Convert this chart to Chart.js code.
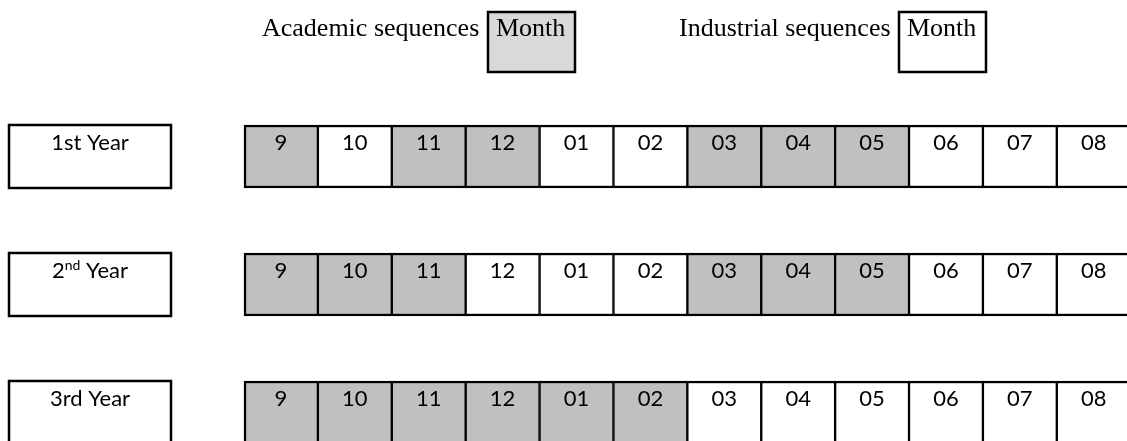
<!DOCTYPE html>
<html>
<head>
<meta charset="utf-8">
<script src="https://cdn.jsdelivr.net/npm/chart.js@4"></script>
<style>
  body { margin: 0; background: #fff; }
  #wrap { width: 1127px; height: 441px; position: relative; }
</style>
</head>
<body>
<div id="wrap"><canvas id="myChart"></canvas></div>
<script>
// rows and months
const rowLabels = ['1st Year', '2nd Year', '3rd Year'];
const rowSuperscript = [false, true, false];
const months = ['9', '10', '11', '12', '01', '02', '03', '04', '05', '06', '07', '08'];
// 1 = academic sequence (grey), 0 = industrial sequence (white)
const academicYear1 = [1, 0, 1, 1, 0, 0, 1, 1, 1, 0, 0, 0];
const academicYear2 = [1, 1, 1, 0, 0, 0, 1, 1, 1, 0, 0, 0];
const academicYear3 = [1, 1, 1, 1, 1, 1, 0, 0, 0, 0, 0, 0];
const legendItems = ['Academic sequences', 'Industrial sequences'];
const legendBoxText = 'Month';

const grey = '#c0c0c0';
const legendGrey = '#d9d9d9';
const cellFont = '22px Lato';
const supFont = '14px Lato';
const serifFont = '26px "Liberation Serif"';

const rows = [academicYear1, academicYear2, academicYear3];

const datasets = months.map((m, i) => ({
    label: m,
    data: rows.map(() => 1),
    backgroundColor: rows.map(r => r[i] ? grey : '#ffffff'),
    borderColor: '#000',
    borderWidth: { top: 2.5, bottom: 2.5, left: i == 0 ? 2.5 : 1.5, right: 1.5 },
    borderSkipped: false,
    barThickness: 63,
    clip: false
}));

const cellText = {
    id: 'cellText',
    afterDatasetsDraw(chart) {
        const ctx = chart.ctx;
        ctx.save();
        ctx.fillStyle = '#000';
        ctx.font = cellFont;
        ctx.textAlign = 'center';
        ctx.textBaseline = 'alphabetic';
        chart.data.datasets.forEach((ds, di) => {
            chart.getDatasetMeta(di).data.forEach(el => {
                const cx = (el.x + el.base) / 2;
                ctx.fillText(ds.label, cx, el.y - 31.5 + 25);
            });
        });

        // row label boxes
        const yScale = chart.scales.y;
        rowLabels.forEach((lab, i) => {
            const y = yScale.getPixelForValue(i);
            ctx.lineWidth = 2.5;
            ctx.strokeStyle = '#000';
            ctx.strokeRect(9, y - 31.5, 162, 63);
            const base = y - 31.5 + 25;
            if (rowSuperscript[i]) {
                const m = lab.match(/^(\d+)(\w+)(.*)$/);
                ctx.font = cellFont;
                const w1 = ctx.measureText(m[1]).width;
                const w3 = ctx.measureText(m[3]).width;
                ctx.font = supFont;
                const w2 = ctx.measureText(m[2]).width;
                let x = 90 - (w1 + w2 + w3) / 2;
                ctx.textAlign = 'left';
                ctx.font = cellFont;
                ctx.fillText(m[1], x, base);
                ctx.font = supFont;
                ctx.fillText(m[2], x + w1, base - 8);
                ctx.font = cellFont;
                ctx.fillText(m[3], x + w1 + w2, base);
                ctx.textAlign = 'center';
            } else {
                ctx.font = cellFont;
                ctx.fillText(lab, 90, base);
            }
        });

        // legend
        ctx.font = serifFont;
        ctx.textAlign = 'left';
        const legendPos = [{ tx: 262, bx: 488, fill: legendGrey }, { tx: 679, bx: 899, fill: '#ffffff' }];
        legendItems.forEach((t, i) => {
            const p = legendPos[i];
            ctx.fillStyle = '#000';
            ctx.fillText(t, p.tx, 36);
            ctx.fillStyle = p.fill;
            ctx.fillRect(p.bx, 12, 87, 60);
            ctx.lineWidth = 2.5;
            ctx.strokeRect(p.bx, 12, 87, 60);
            ctx.fillStyle = '#000';
            ctx.fillText(legendBoxText, p.bx + 8, 36);
        });
        ctx.restore();
    }
};

const ctx = document.getElementById('myChart').getContext('2d');
const myChart = new Chart(ctx, {
    type: 'bar',
    data: {
        labels: rowLabels,
        datasets: datasets
    },
    options: {
        indexAxis: 'y',
        responsive: true,
        maintainAspectRatio: false,
        animation: false,
        layout: { padding: { top: 156.5, bottom: 28.5, left: 244, right: 0 } },
        plugins: {
            legend: { display: false },
            tooltip: { enabled: false }
        },
        scales: {
            x: { stacked: true, min: 0, max: 11.95, display: false },
            y: { stacked: true, offset: false, display: false, grid: { display: false } }
        }
    },
    plugins: [cellText]
});
</script>
</body>
</html>
